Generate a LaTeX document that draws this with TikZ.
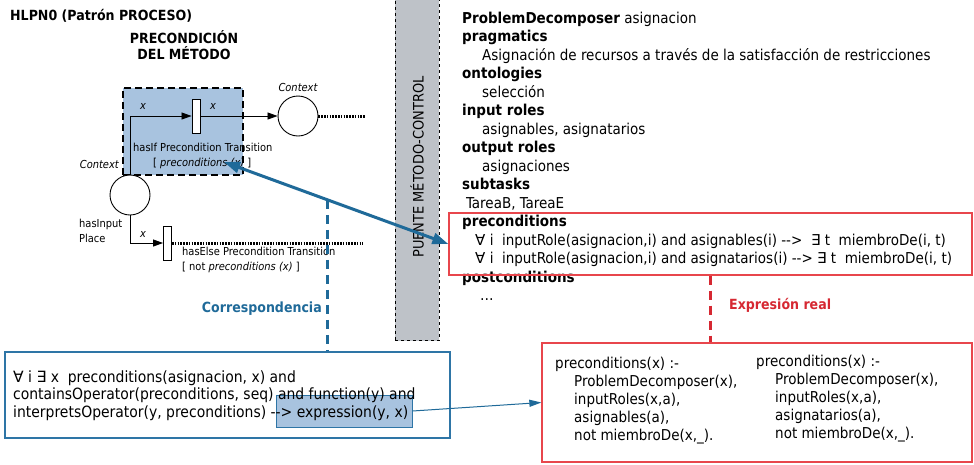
\documentclass[tikz,border=0pt]{standalone}
\usepackage{fontspec}
\setmainfont{DejaVu Sans Condensed}
\newfontfamily\symf{DejaVu Sans}
\usetikzlibrary{arrows.meta}
\definecolor{hlblue}{RGB}{168,195,223}
\definecolor{dblue}{RGB}{31,106,153}
\definecolor{bblue}{RGB}{46,117,166}
\definecolor{rred}{RGB}{232,70,76}
\definecolor{dred}{RGB}{214,40,50}
\definecolor{bandgray}{RGB}{190,194,200}
\newcommand{\fa}{{\symf\char"2200}}
\newcommand{\ex}{{\symf\char"2203}}
\newcommand{\arr}{-\kern0pt-\kern0pt>}
\tikzset{
  txt/.style={anchor=base west, inner sep=0, font=\fontsize{15}{17}\selectfont},
  btxt/.style={anchor=base west, inner sep=0, font=\fontsize{15.5}{17}\selectfont},
  lbl/.style={inner sep=0, font=\fontsize{11}{13}\selectfont},
  ilbl/.style={inner sep=0, font=\itshape\fontsize{11}{13}\selectfont},
  place/.style={circle, draw, minimum size=40pt, inner sep=0, line width=0.9pt, fill=white},
  trans/.style={draw, fill=white, minimum width=8pt, minimum height=34pt, inner sep=0, line width=0.9pt},
  arc/.style={-{Triangle[length=10pt,width=7pt]}, line width=0.8pt},
  dots/.style={line width=3pt, dash pattern=on 1.6pt off 1.2pt},
  redbox/.style={draw=rred, line width=1.3pt, inner sep=0},
  boldtxt/.style={inner sep=0, font=\bfseries\fontsize{14}{16}\selectfont},
}
\begin{document}
\begin{tikzpicture}[x=1pt,y=-1pt]
\useasboundingbox[fill=white] (0,0) rectangle (974,464);
% title
\node[boldtxt, anchor=base west] (title) at (10,20) {HLPN0 (Patrón PROCESO)};
\node[anchor=base, inner sep=0, align=center, font=\bfseries\fontsize{14}{16}\selectfont] (prelbl) at (184,59) {PRECONDICIÓN\\DEL MÉTODO};
% dashed precondition box
\node[draw, fill=hlblue, line width=2.5pt, dash pattern=on 7pt off 4pt, minimum width=120pt, minimum height=87pt, inner sep=0] (prebx) at (183,131.5) {};
% band
\node[draw, dashed, fill=bandgray, line width=0.8pt, minimum width=44pt, minimum height=360pt, anchor=south, inner sep=0] (band) at (417,341) {};
\node[rotate=90, inner sep=0, font=\fontsize{14.4}{16}\selectfont] (bandlbl) at (417,167) {PUENTE MÉTODO-CONTROL};
% petri net
\node[trans] (t1) at (196,116) {};
\node[place] (ctx) at (298,116) {};
\node[place] (inp) at (130,195) {};
\node[trans] (t2) at (167.5,243) {};
\coordinate (ctxend) at (365,116);
\coordinate (t2end) at (363,243);
\draw[arc] (inp.north) |- (t1.west);
\draw[arc] (t1.east) -- (ctx.west);
\draw[dots] (ctx.east) -- (ctxend);
\draw[arc] (inp.south) |- (t2.west);
\draw[dots] (t2.east) -- (t2end);
\node[ilbl] (x1) at (143,106) {x};
\node[ilbl] (x2) at (213,106) {x};
\node[ilbl] (x3) at (143,234) {x};
\node[ilbl, anchor=base] (ctxlbl) at (298,91) {Context};
\node[ilbl, anchor=base east] (inplbl) at (119,168) {Context};
\node[lbl, anchor=base west] (t1a) at (133,151) {hasIf Precondition Transition};
\node[lbl, anchor=base west] (t1b) at (153,166) {[ \textit{preconditions (x)} ]};
\node[lbl, anchor=base west] (ina) at (79,227) {hasInput};
\node[lbl, anchor=base west] (inb) at (79,242) {Place};
\node[lbl, anchor=base west] (t2a) at (182,255) {hasElse Precondition Transition};
\node[lbl, anchor=base west] (t2b) at (182,270) {[ not \textit{preconditions (x)} ]};
% right list
\node[txt] (l1) at (462,23) {\textbf{ProblemDecomposer} asignacion};
\node[txt] (l2) at (462,41.5) {\textbf{pragmatics}};
\node[txt] (l3) at (482,60) {Asignación de recursos a través de la satisfacción de restricciones};
\node[txt] (l4) at (462,78.5) {\textbf{ontologies}};
\node[txt] (l5) at (482,97) {selección};
\node[txt] (l6) at (462,115.5) {\textbf{input roles}};
\node[txt] (l7) at (482,134) {asignables, asignatarios};
\node[txt] (l8) at (462,152.5) {\textbf{output roles}};
\node[txt] (l9) at (482,171) {asignaciones};
\node[txt] (l10) at (462,189.5) {\textbf{subtasks}};
\node[txt] (l11) at (466,208) {TareaB, TareaE};
\node[txt] (l12) at (462,226.5) {\textbf{preconditions}};
\node[txt] (l13) at (475,245) {\fa\ i\ \ inputRole(asignacion,i) and asignables(i) \arr\ \ \ex\ t\ \ miembroDe(i, t)};
\node[txt] (l14) at (475,263.5) {\fa\ i\ \ inputRole(asignacion,i) and asignatarios(i) \arr\ \ex\ t\ \ miembroDe(i, t)};
\node[txt] (l15) at (462,282) {\textbf{postconditions}};
\node[txt] (l16) at (480,300.5) {\dots};
\node[redbox, minimum width=523pt, minimum height=62pt] (prebox) at (710.5,244) {};
% red bottom box
\node[redbox, minimum width=430pt, minimum height=119pt] (rbox) at (757,402.5) {};
\draw[dred, line width=2.5pt, dash pattern=on 9pt off 6pt] (prebox.south) -- (prebox.south |- rbox.north);
\node[boldtxt, anchor=base west, text=dred] (exprl) at (729,309) {Expresión real};
\node[txt] (c1) at (555,368) {preconditions(x) :-};
\node[txt] (c1a) at (574,386) {ProblemDecomposer(x),};
\node[txt] (c1b) at (574,404) {inputRoles(x,a),};
\node[txt] (c1c) at (574,422) {asignables(a),};
\node[txt] (c1d) at (574,440) {not miembroDe(x,\_).};
\node[txt] (c2) at (756,366) {preconditions(x) :-};
\node[txt] (c2a) at (775,384) {ProblemDecomposer(x),};
\node[txt] (c2b) at (775,402) {inputRoles(x,a),};
\node[txt] (c2c) at (775,420) {asignatarios(a),};
\node[txt] (c2d) at (775,438) {not miembroDe(x,\_).};
% left bottom box
\node[draw=bblue, line width=1.2pt, minimum width=445pt, minimum height=86pt, inner sep=0] (lbox) at (227.5,395) {};
\node[draw=bblue, fill=hlblue, line width=1pt, minimum width=136pt, minimum height=32pt, inner sep=0] (hl) at (344,411) {};
\node[btxt] (b1) at (13,382) {\fa\ i \ex\ x\ \ preconditions(asignacion, x) and};
\node[btxt] (b2) at (13,399.5) {containsOperator(preconditions, seq) and function(y) and};
\node[btxt] (b3) at (13,417) {interpretsOperator(y, preconditions) \arr\ expression(y, x)};
\draw[dblue, line width=1pt, -{Triangle[length=12pt,width=7pt]}] (hl.east) -- (rbox.west);
% correspondence
\coordinate (a1) at (224,162);
\draw[dblue, line width=3pt, {Triangle[length=16pt,width=11pt]}-{Triangle[length=16pt,width=11pt]}] (a1) -- (prebox.west) coordinate[pos=0.462] (corr);
\draw[dblue, line width=2.5pt, dash pattern=on 9pt off 6pt] (corr) -- (corr |- lbox.north);
\node[boldtxt, anchor=base east, text=dblue] (corrl) at (322,312) {Correspondencia};
\end{tikzpicture}
\end{document}
